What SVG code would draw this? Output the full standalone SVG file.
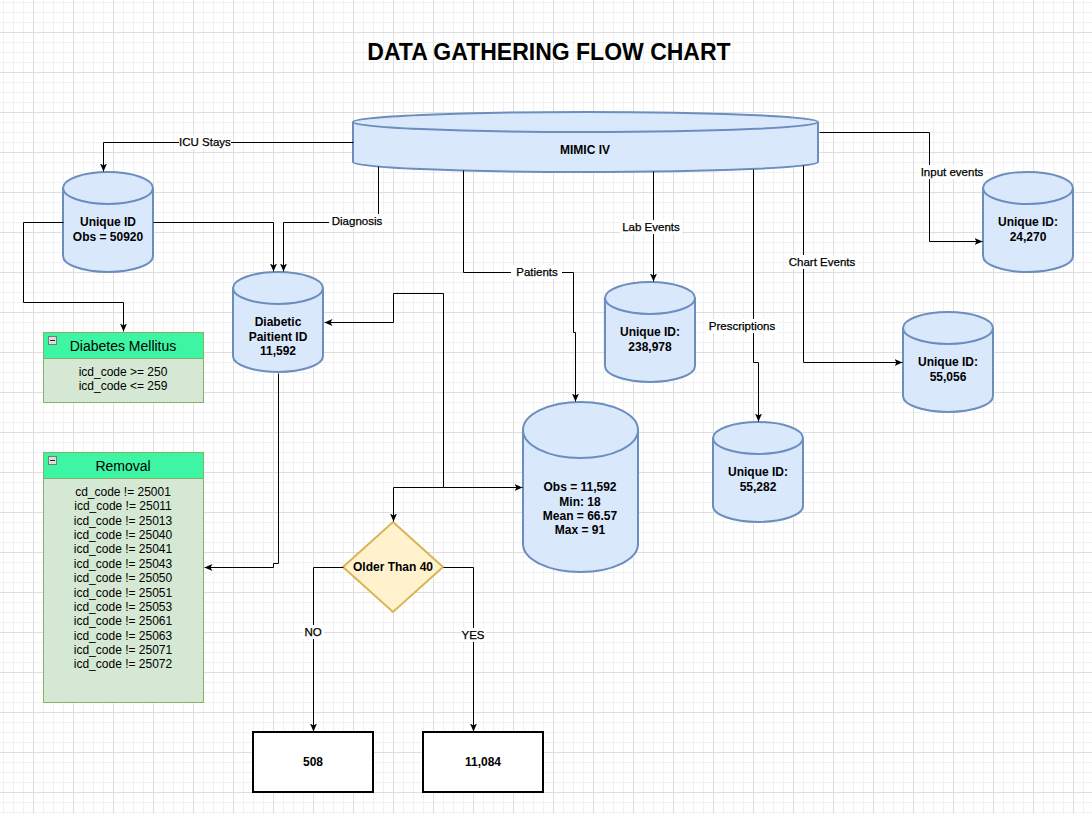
<svg xmlns="http://www.w3.org/2000/svg" width="1092" height="814" viewBox="0 0 1092 814">
<style>
text{font-family:"Liberation Sans",Arial,Helvetica,sans-serif;fill:#000}
.cyl{fill:#dae8fc;stroke:#6c8ebf;stroke-width:2}
.cyli{fill:none;stroke:#6c8ebf;stroke-width:2}
.nt{font-size:12px;font-weight:bold;text-anchor:middle}
.el{font-size:11.5px;text-anchor:middle;stroke:#000;stroke-width:0.25}
.lbg{fill:#fff}
.edge{fill:none;stroke:#000;stroke-width:1}
.lane{fill:#d5e8d4;stroke:#82b366;stroke-width:1}
.laneh{fill:#3ef5a4;stroke:#82b366;stroke-width:1}
.lt{font-size:14px;text-anchor:middle}
.bt{font-size:12px;text-anchor:middle}
.ico{fill:#dcdcdc;stroke:#7a7a7a;stroke-width:1}
.box{fill:#fff;stroke:#000;stroke-width:2}
</style>
<defs>
<pattern id="grid" x="3" y="2" width="40" height="40" patternUnits="userSpaceOnUse">
<rect x="0" y="0" width="1" height="40" fill="#f1f1f1"/>
<rect x="10" y="0" width="1" height="40" fill="#f1f1f1"/>
<rect x="20" y="0" width="1" height="40" fill="#f1f1f1"/>
<rect x="0" y="0" width="40" height="1" fill="#f1f1f1"/>
<rect x="0" y="10" width="40" height="1" fill="#f1f1f1"/>
<rect x="0" y="20" width="40" height="1" fill="#f1f1f1"/>
<rect x="30" y="0" width="1" height="40" fill="#dedede"/>
<rect x="0" y="30" width="40" height="1" fill="#dedede"/>
</pattern>
<marker id="arr" markerUnits="userSpaceOnUse" viewBox="0 0 8 7" markerWidth="8" markerHeight="7" refX="8" refY="3.5" orient="auto-start-reverse">
<path d="M8,3.5 L0,0 L2,3.5 L0,7 Z" fill="#000"/>
</marker>
</defs>
<rect x="0" y="0" width="1092" height="814" fill="#fff"/>
<rect x="0" y="0" width="1092" height="814" fill="url(#grid)"/>

<text x="549" y="60" font-size="23" font-weight="bold" text-anchor="middle">DATA GATHERING FLOW CHART</text>

<g id="mimic">
<path class="cyl" d="M353,122 A232.5,10 0 0 1 818,122 V162 A232.5,10 0 0 1 353,162 Z"/>
<path class="cyli" d="M353,122 A232.5,10 0 0 0 818,122"/>
<text class="nt" x="585" y="154">MIMIC IV</text>
</g>

<g id="icu-unique">
<path class="cyl" d="M63,188 A45,16 0 0 1 153,188 V256 A45,16 0 0 1 63,256 Z"/>
<path class="cyli" d="M63,188 A45,16 0 0 0 153,188"/>
<text class="nt" x="108" y="226">Unique ID</text>
<text class="nt" x="108" y="241">Obs = 50920</text>
</g>

<g id="diabetic">
<path class="cyl" d="M233,288 A45,16 0 0 1 323,288 V356 A45,16 0 0 1 233,356 Z"/>
<path class="cyli" d="M233,288 A45,16 0 0 0 323,288"/>
<text class="nt" x="278" y="326">Diabetic</text>
<text class="nt" x="278" y="341">Paitient ID</text>
<text class="nt" x="278" y="355">11,592</text>
</g>

<g id="lab">
<path class="cyl" d="M605,298 A45,16 0 0 1 695,298 V366 A45,16 0 0 1 605,366 Z"/>
<path class="cyli" d="M605,298 A45,16 0 0 0 695,298"/>
<text class="nt" x="650" y="336">Unique ID:</text>
<text class="nt" x="650" y="351">238,978</text>
</g>

<g id="input">
<path class="cyl" d="M983,188 A45,16 0 0 1 1073,188 V256 A45,16 0 0 1 983,256 Z"/>
<path class="cyli" d="M983,188 A45,16 0 0 0 1073,188"/>
<text class="nt" x="1028" y="226">Unique ID:</text>
<text class="nt" x="1028" y="241">24,270</text>
</g>

<g id="chart">
<path class="cyl" d="M903,328 A45,16 0 0 1 993,328 V396 A45,16 0 0 1 903,396 Z"/>
<path class="cyli" d="M903,328 A45,16 0 0 0 993,328"/>
<text class="nt" x="948" y="366">Unique ID:</text>
<text class="nt" x="948" y="381">55,056</text>
</g>

<g id="prescriptions">
<path class="cyl" d="M713,438 A45,16 0 0 1 803,438 V506 A45,16 0 0 1 713,506 Z"/>
<path class="cyli" d="M713,438 A45,16 0 0 0 803,438"/>
<text class="nt" x="758" y="476">Unique ID:</text>
<text class="nt" x="758" y="491">55,282</text>
</g>

<g id="patients">
<path class="cyl" d="M523,430 A57.5,28 0 0 1 638,430 V544 A57.5,28 0 0 1 523,544 Z"/>
<path class="cyli" d="M523,430 A57.5,28 0 0 0 638,430"/>
<text class="nt" x="580" y="491">Obs = 11,592</text>
<text class="nt" x="580" y="505.5">Min: 18</text>
<text class="nt" x="580" y="519.5">Mean = 66.57</text>
<text class="nt" x="580" y="534">Max = 91</text>
</g>

<g id="diabetes-mellitus">
<rect class="lane" x="43.5" y="332.5" width="160" height="70"/>
<rect class="laneh" x="43.5" y="332.5" width="160" height="26"/>
<rect class="ico" x="48.5" y="336.5" width="8" height="8"/>
<line x1="50" y1="340.5" x2="55" y2="340.5" stroke="#222" stroke-width="1"/>
<text class="lt" x="123" y="351">Diabetes Mellitus</text>
<text class="bt" x="123" y="376">icd_code &gt;= 250</text>
<text class="bt" x="123" y="390">icd_code &lt;= 259</text>
</g>

<g id="removal">
<rect class="lane" x="43.5" y="452.5" width="160" height="250"/>
<rect class="laneh" x="43.5" y="452.5" width="160" height="26"/>
<rect class="ico" x="48.5" y="456.5" width="8" height="8"/>
<line x1="50" y1="460.5" x2="55" y2="460.5" stroke="#222" stroke-width="1"/>
<text class="lt" x="123" y="471">Removal</text>
<text class="bt" x="123" y="496">cd_code != 25001</text>
<text class="bt" x="123" y="510.4">icd_code != 25011</text>
<text class="bt" x="123" y="524.7">icd_code != 25013</text>
<text class="bt" x="123" y="539.1">icd_code != 25040</text>
<text class="bt" x="123" y="553.4">icd_code != 25041</text>
<text class="bt" x="123" y="567.8">icd_code != 25043</text>
<text class="bt" x="123" y="582.2">icd_code != 25050</text>
<text class="bt" x="123" y="596.5">icd_code != 25051</text>
<text class="bt" x="123" y="610.9">icd_code != 25053</text>
<text class="bt" x="123" y="625.2">icd_code != 25061</text>
<text class="bt" x="123" y="639.6">icd_code != 25063</text>
<text class="bt" x="123" y="654">icd_code != 25071</text>
<text class="bt" x="123" y="668.3">icd_code != 25072</text>
</g>

<g id="older-than-40">
<path d="M393,522 L443,567 L393,612 L343,567 Z" fill="#fff2cc" stroke="#d6b656" stroke-width="2"/>
<text class="nt" x="393" y="571">Older Than 40</text>
</g>

<g id="result-no">
<rect class="box" x="253" y="732" width="120" height="60"/>
<text class="nt" x="313" y="766">508</text>
</g>

<g id="result-yes">
<rect class="box" x="423" y="732" width="120" height="60"/>
<text class="nt" x="483" y="766">11,084</text>
</g>

<g id="connectors">
<g transform="translate(0.5,0.5)">
<path class="edge" d="M353,142 H103 V171" marker-end="url(#arr)"/>
<path class="edge" d="M378,166 V222 H283 V271" marker-end="url(#arr)"/>
<path class="edge" d="M153,222 H273 V271" marker-end="url(#arr)"/>
<path class="edge" d="M63,222 H23 V302 H123 V331" marker-end="url(#arr)"/>
<path class="edge" d="M278,373 V563 H273 V567 H204" marker-end="url(#arr)"/>
<path class="edge" d="M463,170 V272 H573 V332 H575 V401" marker-end="url(#arr)"/>
<path class="edge" d="M653,171 V281" marker-end="url(#arr)"/>
<path class="edge" d="M753,169 V362 H758 V421" marker-end="url(#arr)"/>
<path class="edge" d="M803,165 V362 H902" marker-end="url(#arr)"/>
<path class="edge" d="M819,132 H929 V241 H982" marker-end="url(#arr)"/>
<path class="edge" d="M324,322 H393 V293 H443 V487 H522" marker-start="url(#arr)" marker-end="url(#arr)"/>
<path class="edge" d="M443,487 H393 V521" marker-end="url(#arr)"/>
<path class="edge" d="M343,567 H313 V731" marker-end="url(#arr)"/>
<path class="edge" d="M443,567 H473 V731" marker-end="url(#arr)"/>
</g>
<rect class="lbg" x="179" y="135" width="52" height="14"/>
<text class="el" x="205" y="146">ICU Stays</text>
<rect class="lbg" x="329" y="214" width="56" height="14"/>
<text class="el" x="357" y="225">Diagnosis</text>
<rect class="lbg" x="511" y="265" width="51" height="14"/>
<text class="el" x="537" y="276">Patients</text>
<rect class="lbg" x="620" y="220" width="62" height="14"/>
<text class="el" x="651" y="231">Lab Events</text>
<rect class="lbg" x="706" y="319" width="72" height="14"/>
<text class="el" x="742" y="330">Prescriptions</text>
<rect class="lbg" x="787" y="255" width="70" height="14"/>
<text class="el" x="822" y="266">Chart Events</text>
<rect class="lbg" x="919" y="165" width="66" height="14"/>
<text class="el" x="952" y="176">Input events</text>
<rect class="lbg" x="303" y="625" width="21" height="14"/>
<text class="el" x="313" y="636">NO</text>
<rect class="lbg" x="461" y="628" width="25" height="14"/>
<text class="el" x="473" y="639">YES</text>
</g>
</svg>
